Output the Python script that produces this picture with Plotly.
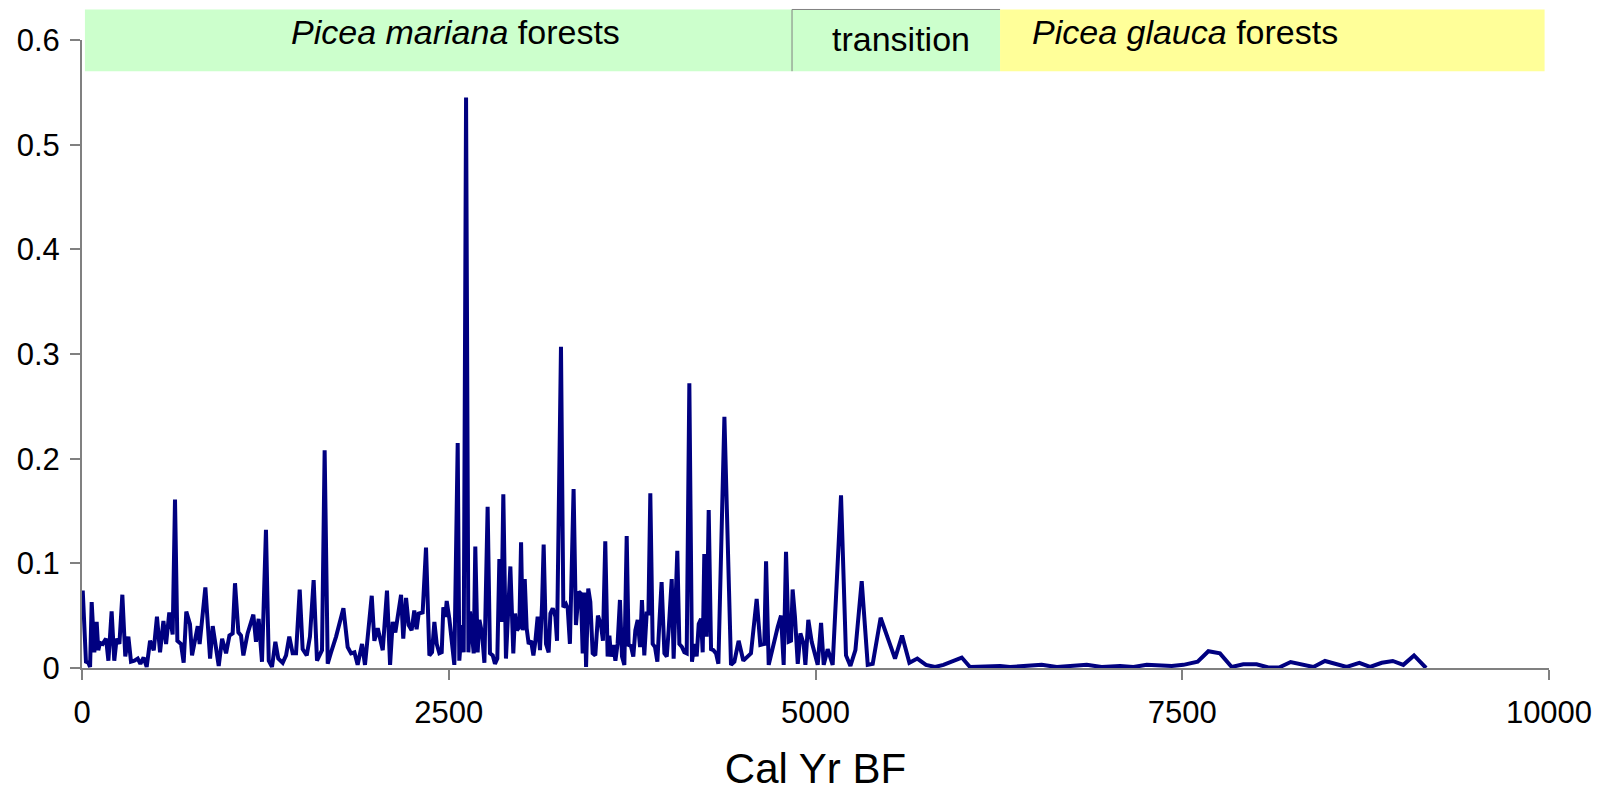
import plotly.graph_objects as go

# ---- data (Cal Yr BP, value) ----
years = [5, 20, 27, 43, 55, 66, 84, 100, 111, 123, 141, 164, 180, 202, 220, 236, 255, 275, 295, 316,
         334, 357, 380, 398, 420, 441, 464, 489, 511, 532, 555, 573, 595, 618, 634, 650, 675, 693, 711, 736,
         750, 789, 802, 841, 873, 891, 914, 932, 955, 982, 1005, 1027, 1043, 1066,
         1084, 1100, 1129, 1168, 1186, 1204, 1227, 1254, 1273, 1295, 1318, 1338, 1368, 1391, 1413, 1436,
         1459, 1484, 1504, 1532, 1554, 1579, 1602, 1618, 1636, 1654, 1675, 1698, 1732, 1782, 1811, 1834,
         1857, 1879, 1909, 1929, 1975, 1993, 2016, 2050, 2079, 2100, 2118, 2136,
         2175, 2190, 2209, 2227, 2247, 2265, 2281, 2295, 2322, 2345, 2368, 2386, 2402, 2418, 2436, 2452,
         2463, 2477, 2486, 2504, 2520, 2538, 2561, 2572, 2590, 2602, 2618, 2634, 2645, 2659, 2670, 2681,
         2697, 2709, 2727, 2743, 2765, 2781, 2800, 2815, 2831, 2845, 2859, 2872, 2890, 2906, 2920, 2940,
         2952, 2965, 2981, 2993, 3004, 3018, 3031, 3045, 3061, 3077, 3090, 3106, 3122, 3136, 3147, 3163,
         3181, 3193, 3209, 3227,
         3238, 3265, 3281, 3299, 3311, 3326, 3351, 3367, 3386, 3401, 3413, 3426, 3436, 3451, 3465, 3481,
         3499, 3517, 3538, 3551, 3567, 3583, 3595, 3606, 3622, 3636, 3651, 3667, 3681, 3697, 3713, 3726,
         3742, 3758, 3772, 3788, 3804, 3817, 3833, 3849, 3861, 3874, 3890, 3906, 3922, 3936, 3951, 3970,
         3986, 3999, 4020, 4033, 4045, 4058, 4072, 4090, 4106, 4122, 4140, 4158, 4174, 4190, 4204, 4220,
         4231, 4242, 4258, 4272, 4288, 4304, 4322, 4338,
         4379, 4424, 4447, 4476, 4508, 4538, 4560, 4599, 4624, 4651, 4663, 4681, 4708, 4742, 4765, 4783,
         4799, 4817, 4833, 4844, 4860, 4879, 4897, 4919, 4931, 4951, 4974, 4997, 5015, 5038, 5056, 5083,
         5099, 5117, 5174, 5208, 5238, 5272, 5315, 5356, 5390,
         5444, 5542, 5590, 5640, 5694, 5753, 5815, 5872, 5997, 6053, 6190, 6258, 6326, 6429, 6542, 6645,
         6758, 6849, 6951, 7076, 7167, 7258, 7428, 7508, 7605, 7678, 7757, 7837, 7916, 8007, 8087, 8160,
         8239, 8314, 8394, 8473, 8541, 8621, 8707, 8780, 8860, 8935, 9007, 9080, 9162]

values = [0.074, 0.022, 0.006, 0.005, 0.001, 0.063, 0.015, 0.044, 0.017, 0.024, 0.023, 0.028, 0.007, 0.054, 0.007, 0.028, 0.023, 0.070, 0.011, 0.030,
          0.006, 0.007, 0.009, 0.004, 0.010, 0.001, 0.026, 0.017, 0.049, 0.015, 0.045, 0.023, 0.053, 0.032, 0.161, 0.026, 0.023, 0.005, 0.054, 0.042,
          0.012, 0.040, 0.023, 0.077, 0.009, 0.040, 0.017, 0.002, 0.028, 0.014, 0.031, 0.033, 0.081, 0.034,
          0.031, 0.012, 0.033, 0.051, 0.025, 0.047, 0.006, 0.132, 0.007, 0.001, 0.025, 0.009, 0.005, 0.012, 0.030, 0.014,
          0.014, 0.075, 0.018, 0.012, 0.030, 0.084, 0.007, 0.011, 0.017, 0.208, 0.004, 0.015, 0.030, 0.057, 0.020, 0.014,
          0.015, 0.003, 0.023, 0.003, 0.069, 0.026, 0.038, 0.017, 0.074, 0.003, 0.044, 0.034,
          0.070, 0.028, 0.067, 0.041, 0.036, 0.055, 0.037, 0.052, 0.053, 0.115, 0.012, 0.015, 0.044, 0.023, 0.014, 0.015,
          0.058, 0.049, 0.064, 0.047, 0.022, 0.003, 0.215, 0.007, 0.041, 0.015, 0.545, 0.015, 0.054, 0.036, 0.014, 0.116,
          0.015, 0.046, 0.033, 0.005, 0.154, 0.014, 0.012, 0.004, 0.009, 0.104, 0.044, 0.166, 0.009, 0.057, 0.097, 0.014,
          0.052, 0.036, 0.039, 0.120, 0.036, 0.085, 0.038, 0.023, 0.026, 0.012, 0.025, 0.049, 0.017, 0.061, 0.118, 0.023,
          0.015, 0.052, 0.057, 0.049,
          0.026, 0.307, 0.058, 0.061, 0.057, 0.023, 0.171, 0.041, 0.073, 0.071, 0.014, 0.072, 0.001, 0.076, 0.063, 0.014,
          0.012, 0.050, 0.041, 0.026, 0.121, 0.011, 0.031, 0.011, 0.022, 0.007, 0.023, 0.065, 0.011, 0.003, 0.126, 0.022,
          0.021, 0.011, 0.036, 0.046, 0.020, 0.065, 0.012, 0.052, 0.052, 0.167, 0.023, 0.020, 0.006, 0.044, 0.082, 0.014,
          0.011, 0.036, 0.085, 0.009, 0.055, 0.112, 0.023, 0.020, 0.015, 0.014, 0.272, 0.006, 0.023, 0.011, 0.042, 0.047,
          0.015, 0.109, 0.030, 0.151, 0.018, 0.017, 0.014, 0.004,
          0.240, 0.003, 0.006, 0.026, 0.007, 0.011, 0.014, 0.066, 0.022, 0.023, 0.102, 0.003, 0.020, 0.039, 0.050, 0.003,
          0.111, 0.025, 0.026, 0.075, 0.049, 0.004, 0.033, 0.023, 0.003, 0.046, 0.025, 0.011, 0.003, 0.043, 0.003, 0.018,
          0.011, 0.003, 0.165, 0.012, 0.002, 0.017, 0.083, 0.003, 0.004,
          0.048, 0.009, 0.031, 0.005, 0.009, 0.003, 0.001, 0.003, 0.010, 0.001, 0.002, 0.002, 0.001, 0.002, 0.003, 0.001,
          0.002, 0.003, 0.001, 0.002, 0.001, 0.003, 0.002, 0.003, 0.006, 0.016, 0.014, 0.001, 0.0035, 0.0035, 0.0005, 0.0005,
          0.0057, 0.0035, 0.001, 0.0067, 0.004, 0.001, 0.005, 0.001, 0.005, 0.0067, 0.003, 0.012, 0.0]

# ---- axes ----
x_range = [0, 10000]
y_range = [0, 0.6]
x_ticks = [0, 2500, 5000, 7500, 10000]
x_tick_labels = ["0", "2500", "5000", "7500", "10000"]
y_ticks = [0, 0.1, 0.2, 0.3, 0.4, 0.5, 0.6]
y_tick_labels = ["0", "0.1", "0.2", "0.3", "0.4", "0.5", "0.6"]
x_title = "Cal Yr BF"

# ---- vegetation zones (start, end, label, label centre, colour) ----
zone_starts = [20, 4840, 6258]
zone_ends = [4840, 6258, 9970]
zone_labels = ["<i>Picea mariana</i> forests", "transition", "<i>Picea glauca</i> forests"]
zone_label_x = [2543, 5583, 7522]
zone_colors = ["#CCFFCC", "#CCFFCC", "#FFFF99"]

FONT = "Liberation Sans, Arial, sans-serif"
band_y0, band_y1 = 0.9503, 1.0486
label_y = [1.012, 1.0008, 1.012]

fig = go.Figure()
fig.add_trace(go.Scatter(x=years, y=values, mode="lines",
                         line=dict(color="#000080", width=4),
                         cliponaxis=False, hoverinfo="skip", showlegend=False))

shapes = []
for s, e, c in zip(zone_starts, zone_ends, zone_colors):
    shapes.append(dict(type="rect", xref="x", yref="paper", x0=s, x1=e, y0=band_y0, y1=band_y1,
                       fillcolor=c, line=dict(width=0), layer="below"))
# thin grey border of the transition box (left and top)
shapes.append(dict(type="line", xref="x", yref="paper", x0=zone_starts[1], x1=zone_starts[1],
                   y0=band_y0, y1=band_y1, line=dict(color="#808080", width=1)))
shapes.append(dict(type="line", xref="x", yref="paper", x0=zone_starts[1], x1=zone_ends[1],
                   y0=band_y1, y1=band_y1, line=dict(color="#808080", width=1)))

annotations = []
for lab, lx, ly in zip(zone_labels, zone_label_x, label_y):
    annotations.append(dict(text=lab, x=lx, y=ly, xref="x", yref="paper", showarrow=False,
                            xanchor="center", yanchor="middle",
                            font=dict(family=FONT, size=34, color="black")))

# page body adds an 8px offset, so the figure is 8px smaller and margins shifted accordingly
fig.update_layout(
    width=1613, height=784,
    margin=dict(l=74, r=72, t=32, b=124, autoexpand=False),
    paper_bgcolor="white", plot_bgcolor="white",
    shapes=shapes, annotations=annotations,
    font=dict(family=FONT, color="black"),
    xaxis=dict(range=x_range, tickvals=x_ticks, ticktext=x_tick_labels, automargin=False,
               showgrid=False, zeroline=False, showline=True, linecolor="#808080", linewidth=2,
               ticks="outside", ticklen=10, tickwidth=1.5, tickcolor="#808080",
               tickfont=dict(family=FONT, size=31, color="black"), ticklabelstandoff=6,
               title=dict(text=x_title, font=dict(family=FONT, size=42, color="black"), standoff=26),
               layer="below traces"),
    yaxis=dict(range=y_range, tickvals=y_ticks, ticktext=y_tick_labels, automargin=False,
               showgrid=False, zeroline=False, showline=True, linecolor="#808080", linewidth=2,
               ticks="outside", ticklen=10, tickwidth=1.5, tickcolor="#808080",
               tickfont=dict(family=FONT, size=31, color="black"), ticklabelstandoff=4,
               layer="below traces"),
)

fig.write_html("out.html")
